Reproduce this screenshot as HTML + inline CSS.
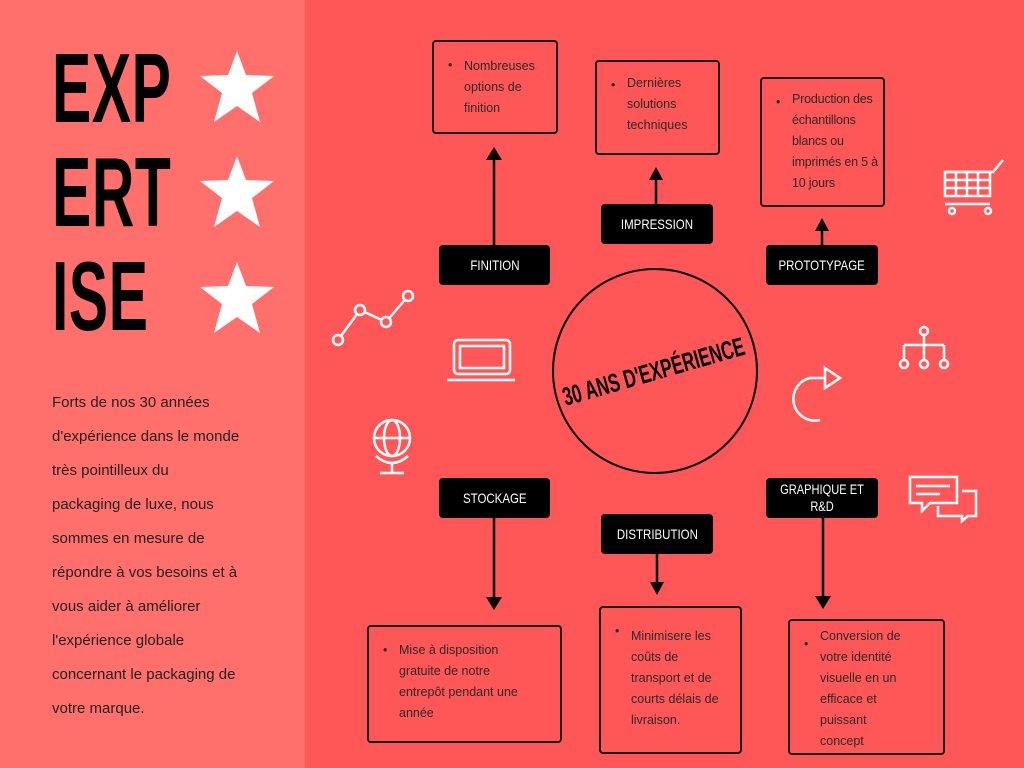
<!DOCTYPE html>
<html><head><meta charset="utf-8"><style>
body{margin:0;width:1024px;height:768px;overflow:hidden;background:#ff5757;position:relative;font-family:"Liberation Sans",sans-serif}
.left{position:absolute;left:0;top:0;width:305px;height:768px;background:#ff6f6c}
.big{position:absolute;left:52px;font-family:"Liberation Sans",sans-serif;font-weight:bold;font-size:98px;line-height:80px;transform:scaleX(0.6);transform-origin:left;color:#000;letter-spacing:1px}
.para{position:absolute;left:52px;top:386px;font-size:15px;line-height:34px;color:#222}
.lab{position:absolute;background:#000;color:#fff;border-radius:4px;font-size:14px;display:flex;align-items:center;justify-content:center;text-align:center;line-height:17px}
.lab span{display:inline-block;transform:scaleX(0.82);white-space:nowrap}
.box{position:absolute;border:2px solid #111;border-radius:4px;box-sizing:border-box;font-size:12.5px;line-height:21px;color:#2a2a2a;padding:13px 4px 0 30px}
.box:before{content:"•";position:absolute;left:14px;top:13px}
</style></head><body>
<div class="left"></div>
<div class="big" style="top:48px">EXP</div>
<div class="big" style="top:152px">ERT</div>
<div class="big" style="top:256px">ISE</div>
<svg style="position:absolute;left:0;top:0" width="1024" height="768">
<g fill="#fff">
<polygon id="st" points="237,51 246,75 274,76 252,93 260,122 237,106 214,122 222,93 200,76 228,75"/>
<use href="#st" y="105"/><use href="#st" y="211"/>
</g>
<circle cx="655" cy="371" r="102" fill="none" stroke="#000" stroke-width="2"/>
<g stroke="#000" stroke-width="2.5" fill="#000">
<line x1="494" y1="245" x2="494" y2="158"/><polygon points="486,160 502,160 494,147" stroke="none"/>
<line x1="656" y1="204" x2="656" y2="178"/><polygon points="649,180 663,180 656,167" stroke="none"/>
<line x1="822" y1="245" x2="822" y2="230"/><polygon points="815,231 829,231 822,218" stroke="none"/>
<line x1="494" y1="518" x2="494" y2="598"/><polygon points="486,597 502,597 494,610" stroke="none"/>
<line x1="657" y1="554" x2="657" y2="583"/><polygon points="650,582 664,582 657,595" stroke="none"/>
<line x1="823" y1="518" x2="823" y2="597"/><polygon points="815,596 831,596 823,609" stroke="none"/>
</g>
<g fill="none" stroke="#fff" stroke-width="2.5">
<polyline points="338,340 360,310 386,322 408,296"/>
<circle cx="338" cy="340" r="5" fill="#ff5757"/><circle cx="360" cy="310" r="5" fill="#ff5757"/><circle cx="386" cy="322" r="5" fill="#ff5757"/><circle cx="408" cy="296" r="5" fill="#ff5757"/>
<rect x="454" y="340" width="56" height="34" rx="4"/><rect x="460" y="346" width="44" height="22"/><line x1="447" y1="380" x2="515" y2="380"/>
<circle cx="392" cy="438" r="18"/><ellipse cx="392" cy="438" rx="8" ry="18"/><line x1="374" y1="438" x2="410" y2="438"/><path d="M376 456 Q392 470 408 456"/><line x1="392" y1="462" x2="392" y2="472"/><line x1="380" y1="473" x2="404" y2="473"/>
<path d="M820 420 A18 18 0 1 1 810 378 L825 378"/><polygon points="825,368 840,378 825,388"/>
<circle cx="924" cy="331" r="4"/><line x1="924" y1="335" x2="924" y2="345"/><line x1="904" y1="345" x2="944" y2="345"/><line x1="904" y1="345" x2="904" y2="360"/><line x1="924" y1="345" x2="924" y2="360"/><line x1="944" y1="345" x2="944" y2="360"/>
<circle cx="904" cy="364" r="4"/><circle cx="924" cy="364" r="4"/><circle cx="944" cy="364" r="4"/>
<path d="M945 172 L993 172 L1003 160"/><rect x="945" y="172" width="45" height="24"/><line x1="945" y1="180" x2="990" y2="180"/><line x1="945" y1="188" x2="990" y2="188"/><line x1="956" y1="172" x2="956" y2="196"/><line x1="967" y1="172" x2="967" y2="196"/><line x1="978" y1="172" x2="978" y2="196"/><line x1="945" y1="204" x2="990" y2="204"/><circle cx="952" cy="211" r="3"/><circle cx="988" cy="211" r="3"/>
<path d="M910 477 H957 V503 H930 L922 511 V503 H910 Z"/><line x1="916" y1="486" x2="950" y2="486"/><line x1="916" y1="494" x2="940" y2="494"/>
<path d="M962 491 H976 V516 H968 L962 521 V516 H938 V506"/>
</g>
<text x="656" y="380" transform="rotate(-16 656 380)" text-anchor="middle" textLength="188" lengthAdjust="spacingAndGlyphs" font-family="Liberation Sans, sans-serif" font-weight="bold" font-size="26" fill="#000">30 ANS D'EXPÉRIENCE</text>
</svg>
<div class="para">Forts de nos 30 années<br>d'expérience dans le monde<br>très pointilleux du<br>packaging de luxe, nous<br>sommes en mesure de<br>répondre à vos besoins et à<br>vous aider à améliorer<br>l'expérience globale<br>concernant le packaging de<br>votre marque.</div>
<div class="lab" style="left:439px;top:245px;width:111px;height:40px"><span>FINITION</span></div>
<div class="lab" style="left:601px;top:204px;width:112px;height:40px"><span>IMPRESSION</span></div>
<div class="lab" style="left:766px;top:245px;width:112px;height:40px"><span>PROTOTYPAGE</span></div>
<div class="lab" style="left:439px;top:478px;width:111px;height:40px"><span>STOCKAGE</span></div>
<div class="lab" style="left:601px;top:514px;width:112px;height:40px"><span>DISTRIBUTION</span></div>
<div class="lab" style="left:766px;top:478px;width:112px;height:40px;font-size:13.5px"><span>GRAPHIQUE ET<br>R&amp;D</span></div>
<div class="box" style="left:432px;top:40px;width:126px;height:94px;padding-top:14px">Nombreuses options de finition</div>
<div class="box" style="left:595px;top:60px;width:125px;height:95px;padding-top:11px">Dernières solutions techniques</div>
<div class="box" style="left:760px;top:77px;width:125px;height:130px;padding-top:10px;padding-right:0;letter-spacing:-0.2px">Production des échantillons blancs ou imprimés en 5 à 10 jours</div>
<div class="box" style="left:367px;top:625px;width:195px;height:118px;padding-right:40px">Mise à disposition gratuite de notre entrepôt pendant une année</div>
<div class="box" style="left:599px;top:606px;width:143px;height:148px;padding-top:18px;padding-right:16px">Minimisere les coûts de transport et de courts délais de livraison.</div>
<div class="box" style="left:788px;top:619px;width:157px;height:136px;padding-top:5px;padding-right:36px">Conversion de votre identité visuelle en un efficace et puissant concept</div>
</body></html>
